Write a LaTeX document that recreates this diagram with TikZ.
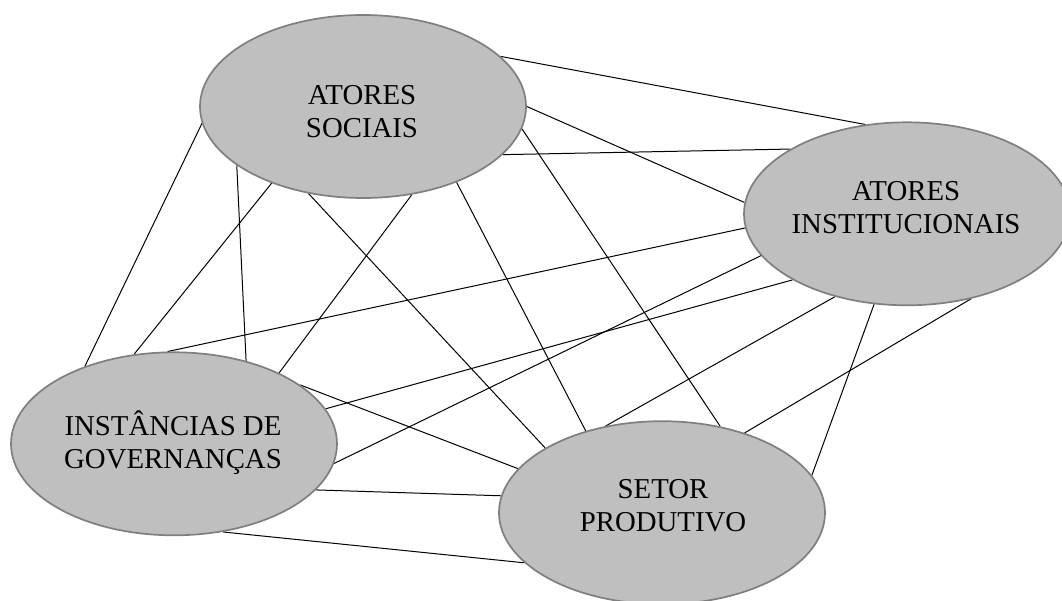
\documentclass[tikz,border=0pt]{standalone}
\usepackage{fontspec}
\setmainfont{Liberation Serif}
\usetikzlibrary{shapes.geometric,backgrounds}
\definecolor{blobfill}{HTML}{BFBFBF}
\definecolor{blobline}{HTML}{7F7F7F}
\tikzset{
  blob/.style={ellipse, draw=blobline, fill=blobfill, line width=1.7pt,
    minimum width=326pt, minimum height=183pt, inner sep=0pt},
  lbl/.style={align=center, inner sep=0pt, text=black,
    font=\fontsize{28.8}{33}\selectfont},
  link/.style={draw=black, line width=1pt}
}
\begin{document}
\begin{tikzpicture}[x=1pt,y=-1pt]
\useasboundingbox (0,0) rectangle (1062,600);
% ellipses
\node[blob] (S) at (363,106.5) {};
\node[blob] (I) at (907,213.8) {};
\node[blob] (G) at (174,443.8) {};
\node[blob] (P) at (662,512.7) {};
% labels
\node[lbl] (St) at (362,111.5) {ATORES\\SOCIAIS};
\node[lbl] (It) at (906,208) {ATORES\\INSTITUCIONAIS};
\node[lbl] (Gt) at (173,443) {INSTÂNCIAS DE\\GOVERNANÇAS};
\node[lbl] (Pt) at (663,506) {SETOR\\PRODUTIVO};
\begin{scope}[on background layer]
\fill[white] (0,0) rectangle (1062,600);
% S - I
\draw[link] (S.20) -- (I.115);
\draw[link] (S.0) -- (I.176);
\draw[link] (S.-19) -- (I.151);
% S - P
\draw[link] (S.-8) -- (P.56);
\draw[link] (S.-39) -- (P.133);
\draw[link] (S.-122) -- (P.151);
% S - G
\draw[link] (S.-61) -- (G.34);
\draw[link] (S.-140) -- (G.114);
\draw[link] (S.-155) -- (G.49);
\draw[link] (S.-174) -- (G.139);
% I - G
\draw[link] (I.-175) -- (G.94);
\draw[link] (I.-164) -- (G.-7);
\draw[link] (I.-150) -- (G.13);
% I - P
\draw[link] (I.-131) -- (P.123);
\draw[link] (I.-110) -- (P.14);
\draw[link] (I.-53) -- (P.44);
% G - P
\draw[link] (G.25) -- (P.163);
\draw[link] (G.-18) -- (P.174);
\draw[link] (G.-61) -- (P.-160);
\end{scope}
\end{tikzpicture}
\end{document}
